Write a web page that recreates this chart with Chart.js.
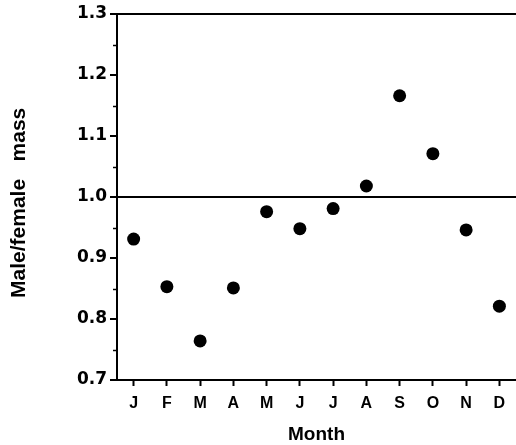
<!DOCTYPE html>
<html>
<head>
<meta charset="utf-8">
<script src="https://cdn.jsdelivr.net/npm/chart.js@4.4.1/dist/chart.umd.min.js"></script>
<style>
  html, body { margin: 0; padding: 0; background: #fff; }
  #wrap { width: 516px; height: 445px; }
</style>
</head>
<body>
<div id="wrap"><canvas id="c" width="516" height="445"></canvas></div>
<script>
// Data
const months = ['J', 'F', 'M', 'A', 'M', 'J', 'J', 'A', 'S', 'O', 'N', 'D'];
const massRatio = [0.931, 0.853, 0.764, 0.851, 0.976, 0.948, 0.981, 1.018, 1.166, 1.071, 0.946, 0.821];
const yMajorTicks = [0.7, 0.8, 0.9, 1.0, 1.1, 1.2, 1.3];
const yMinorTicks = [0.75, 0.85, 0.95, 1.05, 1.15, 1.25];
const referenceLines = [1.0, 1.3];

const minorTickPlugin = {
  id: 'minorTicks',
  afterDraw(chart) {
    const s = chart.scales.y;
    const ctx = chart.ctx;
    ctx.save();
    ctx.strokeStyle = '#000';
    ctx.lineWidth = 1.5;
    yMinorTicks.forEach(v => {
      const py = Math.round(s.getPixelForValue(v)) + 0.5;
      ctx.beginPath();
      ctx.moveTo(s.right - 4, py);
      ctx.lineTo(s.right, py);
      ctx.stroke();
    });
    ctx.restore();
  }
};

const isRef = v => referenceLines.some(r => Math.abs(r - v) < 1e-6);

new Chart(document.getElementById('c'), {
  type: 'line',
  data: {
    labels: months,
    datasets: [{
      data: massRatio,
      showLine: false,
      pointRadius: 6.5,
      pointHoverRadius: 6.5,
      pointBackgroundColor: '#000',
      pointBorderWidth: 0,
      pointBorderColor: '#000'
    }]
  },
  options: {
    responsive: false,
    animation: false,
    events: [],
    layout: { autoPadding: false, padding: { top: 14, right: 0, left: 0, bottom: 0 } },
    plugins: { legend: { display: false }, tooltip: { enabled: false } },
    scales: {
      x: {
        type: 'category',
        offset: true,
        afterFit(scale) { scale.height = 65; },
        grid: {
          offset: false,
          drawOnChartArea: false,
          drawTicks: true,
          tickLength: 6,
          tickWidth: 2,
          tickColor: '#000'
        },
        border: { display: true, color: '#000', width: 2 },
        ticks: {
          color: '#000',
          font: { family: 'Liberation Sans', weight: 'bold', size: 16 },
          padding: 8,
          maxRotation: 0,
          autoSkip: false
        },
        title: {
          display: true,
          text: 'Month',
          color: '#000',
          font: { family: 'Liberation Sans', weight: 'bold', size: 19, lineHeight: 1 },
          padding: { top: 0, bottom: 0.5 }
        }
      },
      y: {
        min: 0.7,
        max: 1.3,
        afterFit(scale) { scale.width = 117; },
        afterBuildTicks(scale) { scale.ticks = yMajorTicks.map(v => ({ value: v })); },
        grid: {
          drawOnChartArea: true,
          color: ctx => isRef(ctx.tick.value) ? '#000' : 'rgba(0,0,0,0)',
          lineWidth: 2,
          drawTicks: true,
          tickLength: 7,
          tickWidth: 2,
          tickColor: '#000'
        },
        border: { display: true, color: '#000', width: 2 },
        ticks: {
          color: '#000',
          font: { family: 'DejaVu Sans', weight: 'bold', size: 17 },
          padding: 3,
          callback: v => Number(v).toFixed(1)
        },
        title: {
          display: true,
          text: 'Male/female   mass  ',
          color: '#000',
          font: { family: 'Liberation Sans', weight: 'bold', size: 21 },
          padding: { top: 7, bottom: 0 }
        }
      }
    }
  },
  plugins: [minorTickPlugin]
});
</script>
</body>
</html>
